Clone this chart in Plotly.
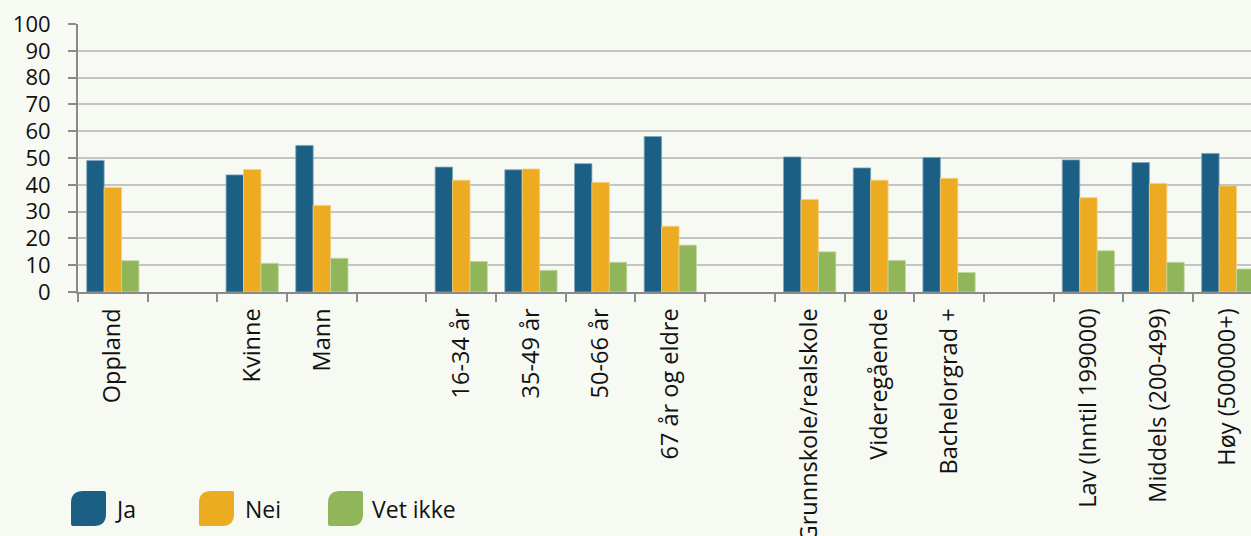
import plotly.graph_objects as go

# ---- data ----
categories = ["Oppland", " ", "Kvinne", "Mann", "  ", "16-34 år", "35-49 år", "50-66 år",
              "67 år og eldre", "   ", "Grunnskole/realskole", "Videregående", "Bachelorgrad +",
              "    ", "Lav (Inntil 199000)", "Middels (200-499)", "Høy (500000+)"]
ja      = [49.1, None, 43.7, 54.7, None, 46.6, 45.6, 47.9, 58.0, None, 50.4, 46.3, 50.2, None, 49.3, 48.3, 51.7]
nei     = [39.0, None, 45.7, 32.3, None, 41.7, 45.9, 40.9, 24.5, None, 34.5, 41.7, 42.4, None, 35.2, 40.5, 39.6]
vet_ikke = [11.7, None, 10.7, 12.6, None, 11.4, 8.1, 11.1, 17.5, None, 15.0, 11.8, 7.3, None, 15.4, 11.1, 8.6]
series_names = ["Ja", "Nei", "Vet ikke"]
series_values = [ja, nei, vet_ikke]
colors = ["#1c5f85", "#ecab21", "#91b65a"]
edge_colors = ["#7fa6bd", "#f5cf7d", "#c3dba2"]
y_ticks = list(range(0, 101, 10))

W, H = 1251, 536
L, R, T, B = 78, 0, 24, 244
BG = "#f7f9f3"
FONT = "Open Sans"

fig = go.Figure()
for name, vals, c, ec in zip(series_names, series_values, colors, edge_colors):
    fig.add_trace(go.Bar(x=categories, y=vals, name=name, marker=dict(color=c, line=dict(color=ec, width=0.8)),
                         showlegend=False))

fig.update_layout(
    width=W, height=H,
    margin=dict(l=L, r=R, t=T, b=B, pad=0, autoexpand=False),
    paper_bgcolor=BG, plot_bgcolor=BG,
    barmode="group", bargap=0.25, bargroupgap=0,
    font=dict(family=FONT, size=22, color="#111111"),
)
fig.update_xaxes(
    type="category", categoryorder="array", categoryarray=categories, automargin=False,
    range=[-0.5, 16.333], tickson="boundaries", ticks="outside", ticklen=8, tickwidth=2,
    tickcolor="#8a8a8a", showline=True, linecolor="#8a8a8a", linewidth=2,
    tickangle=-90, tickfont=dict(family=FONT, size=23.5, color="#111111"),
    showgrid=False, ticklabelstandoff=5,
)
fig.update_yaxes(
    range=[0, 100], tickvals=y_ticks, ticks="outside", ticklen=8, tickwidth=2, tickcolor="#8a8a8a",
    showline=True, linecolor="#8a8a8a", linewidth=2, gridcolor="#c4c4c4", gridwidth=1.5, automargin=False,
    tickfont=dict(family=FONT, size=22, color="#111111"), ticklabelstandoff=13, zeroline=False,
)

# ---- custom legend (leaf shaped keys) ----
pw, ph = W - L - R, H - T - B
def px(x):
    return (x - L) / pw
def py(y):
    return (H - B - y) / ph

key_left = [71, 199, 328]
text_left = [113, 243, 370]
top, size, rbig, rsm = 491, 35, 12, 2
for name, c, kx, tx in zip(series_names, colors, key_left, text_left):
    x0, x1, y0, y1 = kx, kx + size, top, top + size
    pts = (f"M {px(x0)},{py(y0 + rbig)} Q {px(x0)},{py(y0)} {px(x0 + rbig)},{py(y0)} "
           f"L {px(x1 - rsm)},{py(y0)} Q {px(x1)},{py(y0)} {px(x1)},{py(y0 + rsm)} "
           f"L {px(x1)},{py(y1 - rbig)} Q {px(x1)},{py(y1)} {px(x1 - rbig)},{py(y1)} "
           f"L {px(x0 + rsm)},{py(y1)} Q {px(x0)},{py(y1)} {px(x0)},{py(y1 - rsm)} Z")
    fig.add_shape(type="path", path=pts, xref="paper", yref="paper", fillcolor=c, line=dict(width=0), layer="above")
    fig.add_annotation(x=px(tx), y=py(top + size / 2), xref="paper", yref="paper", text=name,
                       showarrow=False, xanchor="left", yanchor="middle",
                       font=dict(family=FONT, size=23, color="#111111"))

fig.write_html(
    "out.html",
    config={"displayModeBar": False},
    post_script=f"document.body.style.margin='0';document.body.style.overflow='hidden';"
                f"document.body.style.background='{BG}';",
)
